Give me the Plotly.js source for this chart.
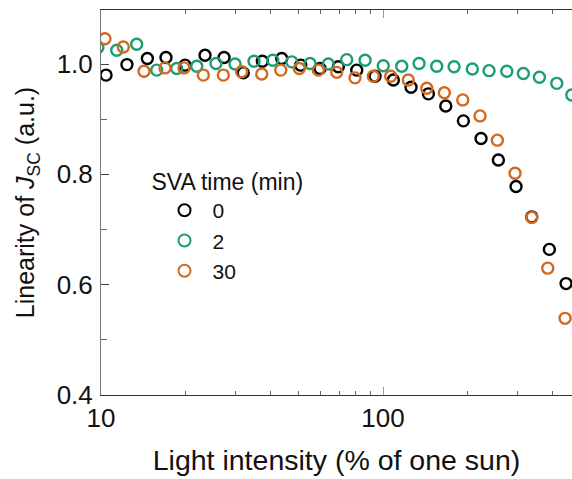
<!DOCTYPE html>
<html>
<head>
<meta charset="utf-8">
<script src="https://cdn.plot.ly/plotly-3.0.1.min.js"></script>
<style>html,body{margin:0;padding:0;background:#fff;}#chart{width:572px;height:479px;}</style>
</head>
<body>
<div id="chart"></div>
<script>
// Light intensity (% of one sun) and linearity of Jsc for each SVA time
const x0 = [10.42, 12.36, 14.60, 17.00, 19.86, 23.38, 27.31, 31.95, 37.33, 43.73, 51.08, 59.78, 69.42, 80.67, 93.68, 108.8, 125.7, 144.8, 166.9, 192.7, 222.6, 256.4, 296.2, 336.8, 388.8, 445.6];
const y0 = [0.980, 0.999, 1.010, 1.012, 0.998, 1.016, 1.012, 0.984, 1.005, 1.010, 0.998, 0.992, 0.995, 0.989, 0.978, 0.971, 0.958, 0.946, 0.924, 0.897, 0.865, 0.826, 0.778, 0.723, 0.664, 0.602];

const x2 = [9.75, 11.37, 13.38, 15.76, 18.55, 21.85, 25.57, 29.87, 34.88, 40.64, 47.46, 55.09, 63.97, 74.34, 86.36, 100.2, 116.5, 134.2, 155.0, 178.6, 207.3, 237.6, 274.7, 314.5, 358.4, 413.0, 466.9];
const y2 = [1.030, 1.025, 1.036, 0.989, 0.992, 0.996, 1.001, 1.000, 1.005, 1.007, 1.004, 1.001, 1.000, 1.008, 1.007, 0.997, 0.996, 1.001, 0.996, 0.995, 0.991, 0.988, 0.987, 0.983, 0.976, 0.965, 0.944];

const x30 = [10.33, 12.00, 14.21, 16.86, 19.70, 23.06, 27.15, 31.53, 37.15, 43.38, 50.49, 58.96, 68.52, 79.56, 92.39, 106.5, 122.9, 142.9, 165.0, 191.7, 220.8, 254.3, 293.8, 336.8, 383.7, 442.0];
const y30 = [1.046, 1.031, 0.987, 0.993, 0.993, 0.980, 0.980, 0.986, 0.982, 0.989, 0.992, 0.989, 0.985, 0.975, 0.978, 0.978, 0.971, 0.956, 0.948, 0.935, 0.906, 0.862, 0.802, 0.722, 0.630, 0.539];

const seriesNames = ['0', '2', '30'];
const seriesColors = ['#000000', '#1b9e77', '#d2691e'];
const xMajorTicks = [10, 100];
const xMinorTicks = [20, 30, 40, 50, 60, 70, 80, 90, 200, 300, 400];
const yMajorTicks = [0.4, 0.6, 0.8, 1.0];
const yTickText = ['0.4', '0.6', '0.8', '1.0'];
const yMinorTicks = [0.5, 0.7, 0.9];

const FONT = 'Liberation Sans, Arial, sans-serif';
const xs = [x0, x2, x30], ys = [y0, y2, y30];
const data = xs.map((xv, i) => ({
  type: 'scatter', mode: 'markers', x: xv, y: ys[i], name: seriesNames[i],
  marker: {symbol: 'circle-open', size: 11, color: seriesColors[i], line: {width: 2.4, color: seriesColors[i]}}
}));

const layout = {
  width: 572, height: 479,
  margin: {l: 101, r: 0, t: 10, b: 84},
  paper_bgcolor: '#fff', plot_bgcolor: '#fff',
  font: {family: FONT, color: '#222', size: 22},
  showlegend: true,
  legend: {
    x: 0.103, y: 0.61, xanchor: 'left', yanchor: 'top',
    bgcolor: 'rgba(0,0,0,0)', borderwidth: 0,
    font: {family: FONT, size: 21, color: '#111'},
    title: {text: 'SVA time (min)', font: {family: FONT, size: 23, color: '#111'}},
    indentation: 7, tracegroupgap: 0, itemsizing: 'constant', itemwidth: 46
  },
  xaxis: {
    type: 'log', range: [1, 2.67],
    tickmode: 'array', tickvals: xMajorTicks, ticktext: ['10', '100'],
    ticks: 'inside', ticklen: 8, tickwidth: 1, tickcolor: '#999',
    minor: {tickmode: 'array', tickvals: xMinorTicks, ticks: 'inside', ticklen: 4, tickcolor: '#666', showgrid: false},
    showline: true, linecolor: '#333', linewidth: 1, mirror: 'ticks',
    showgrid: false, zeroline: false,
    tickfont: {family: FONT, size: 26, color: '#111'},
    title: {text: 'Light intensity (% of one sun)', font: {family: FONT, size: 28.5, color: '#111'}, standoff: 17}
  },
  yaxis: {
    range: [0.4, 1.098],
    tickmode: 'array', tickvals: yMajorTicks, ticktext: yTickText,
    ticks: 'inside', ticklen: 8, tickwidth: 1, tickcolor: '#444',
    minor: {tickmode: 'array', tickvals: yMinorTicks, ticks: 'inside', ticklen: 6, tickcolor: '#666', showgrid: false},
    showline: true, linecolor: '#777', linewidth: 1,
    showgrid: false, zeroline: false,
    ticklabelstandoff: 2,
    tickfont: {family: FONT, size: 26, color: '#111'},
    title: {text: 'Linearity of <i>J</i><sub>SC</sub> (a.u.)', font: {family: FONT, size: 25, color: '#111'}, standoff: 14}
  }
};

Plotly.newPlot('chart', data, layout, {displayModeBar: false, staticPlot: true});
</script>
</body>
</html>
